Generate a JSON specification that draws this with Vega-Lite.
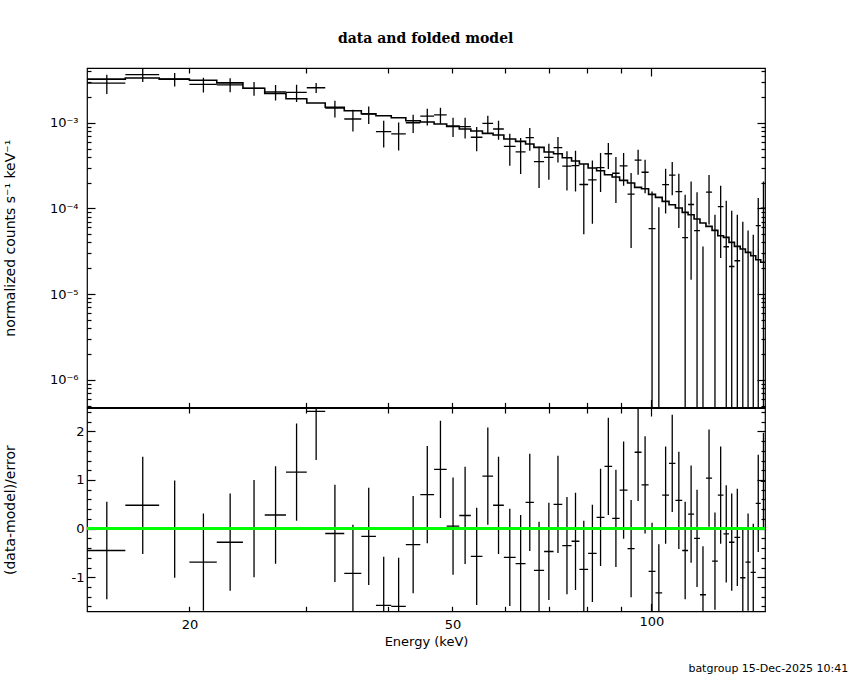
{
  "$schema": "https://vega.github.io/schema/vega-lite/v6.json",
  "background": "white",
  "padding": {"left": 2, "top": 31, "right": 2, "bottom": 2},
  "spacing": 0,
  "bounds": "flush",
  "title": {
    "text": "data and folded model",
    "font": "DejaVu Serif",
    "fontSize": 14,
    "fontWeight": "bold",
    "color": "black",
    "anchor": "middle",
    "baseline": "alphabetic",
    "offset": 8
  },
  "datasets": {
    "bins": [
      {"elo": 14, "ehi": 16, "e": 15, "f": 2.90e-3, "flo": 2.16e-3, "fhi": 3.63e-3, "r": -0.45, "rlo": -1.45, "rhi": 0.55},
      {"elo": 16, "ehi": 18, "e": 17, "f": 3.65e-3, "flo": 2.99e-3, "fhi": 4.31e-3, "r": 0.48, "rlo": -0.52, "rhi": 1.48},
      {"elo": 18, "ehi": 20, "e": 19, "f": 3.23e-3, "flo": 2.65e-3, "fhi": 3.80e-3, "r": -0.01, "rlo": -1.01, "rhi": 0.99},
      {"elo": 20, "ehi": 22, "e": 21, "f": 2.80e-3, "flo": 2.25e-3, "fhi": 3.35e-3, "r": -0.69, "rlo": -1.69, "rhi": 0.31},
      {"elo": 22, "ehi": 24.1, "e": 23.05, "f": 2.77e-3, "flo": 2.26e-3, "fhi": 3.30e-3, "r": -0.28, "rlo": -1.28, "rhi": 0.72},
      {"elo": 24.1, "ehi": 26, "e": 25.05, "f": 2.52e-3, "flo": 2.06e-3, "fhi": 2.98e-3, "r": 0.0, "rlo": -1.0, "rhi": 1.0},
      {"elo": 26, "ehi": 28, "e": 27, "f": 2.29e-3, "flo": 1.82e-3, "fhi": 2.75e-3, "r": 0.28, "rlo": -0.72, "rhi": 1.28},
      {"elo": 28, "ehi": 30.1, "e": 29.05, "f": 2.26e-3, "flo": 1.74e-3, "fhi": 2.78e-3, "r": 1.16, "rlo": 0.16, "rhi": 2.16},
      {"elo": 30.1, "ehi": 32.1, "e": 31.1, "f": 2.56e-3, "flo": 2.22e-3, "fhi": 2.90e-3, "r": 2.41, "rlo": 1.41, "rhi": 3.41},
      {"elo": 32.1, "ehi": 34.3, "e": 33.2, "f": 1.48e-3, "flo": 1.15e-3, "fhi": 1.81e-3, "r": -0.10, "rlo": -1.10, "rhi": 0.90},
      {"elo": 34.3, "ehi": 36.4, "e": 35.35, "f": 1.105e-3, "flo": 0.79e-3, "fhi": 1.42e-3, "r": -0.92, "rlo": -1.92, "rhi": 0.08},
      {"elo": 36.4, "ehi": 38.3, "e": 37.35, "f": 1.257e-3, "flo": 0.966e-3, "fhi": 1.549e-3, "r": -0.16, "rlo": -1.16, "rhi": 0.84},
      {"elo": 38.3, "ehi": 40.4, "e": 39.35, "f": 0.785e-3, "flo": 0.515e-3, "fhi": 1.055e-3, "r": -1.58, "rlo": -2.58, "rhi": -0.58},
      {"elo": 40.4, "ehi": 42.5, "e": 41.45, "f": 0.742e-3, "flo": 0.475e-3, "fhi": 1.008e-3, "r": -1.60, "rlo": -2.60, "rhi": -0.60},
      {"elo": 42.5, "ehi": 44.7, "e": 43.6, "f": 0.999e-3, "flo": 0.758e-3, "fhi": 1.240e-3, "r": -0.33, "rlo": -1.33, "rhi": 0.67},
      {"elo": 44.7, "ehi": 46.9, "e": 45.8, "f": 1.194e-3, "flo": 0.930e-3, "fhi": 1.457e-3, "r": 0.70, "rlo": -0.30, "rhi": 1.70},
      {"elo": 46.9, "ehi": 49.0, "e": 47.95, "f": 1.235e-3, "flo": 0.973e-3, "fhi": 1.496e-3, "r": 1.22, "rlo": 0.22, "rhi": 2.22},
      {"elo": 49.0, "ehi": 51.2, "e": 50.1, "f": 0.913e-3, "flo": 0.681e-3, "fhi": 1.144e-3, "r": 0.05, "rlo": -0.95, "rhi": 1.05},
      {"elo": 51.2, "ehi": 53.3, "e": 52.25, "f": 0.900e-3, "flo": 0.656e-3, "fhi": 1.144e-3, "r": 0.27, "rlo": -0.73, "rhi": 1.27},
      {"elo": 53.3, "ehi": 55.5, "e": 54.4, "f": 0.677e-3, "flo": 0.463e-3, "fhi": 0.891e-3, "r": -0.57, "rlo": -1.57, "rhi": 0.43},
      {"elo": 55.5, "ehi": 57.6, "e": 56.55, "f": 0.983e-3, "flo": 0.758e-3, "fhi": 1.207e-3, "r": 1.08, "rlo": 0.08, "rhi": 2.08},
      {"elo": 57.6, "ehi": 59.8, "e": 58.7, "f": 0.844e-3, "flo": 0.633e-3, "fhi": 1.055e-3, "r": 0.48, "rlo": -0.52, "rhi": 1.48},
      {"elo": 59.8, "ehi": 62.3, "e": 61.05, "f": 0.529e-3, "flo": 0.315e-3, "fhi": 0.744e-3, "r": -0.59, "rlo": -1.59, "rhi": 0.41},
      {"elo": 62.3, "ehi": 64.5, "e": 63.4, "f": 0.457e-3, "flo": 0.252e-3, "fhi": 0.663e-3, "r": -0.72, "rlo": -1.72, "rhi": 0.28},
      {"elo": 64.5, "ehi": 66.4, "e": 65.45, "f": 0.669e-3, "flo": 0.471e-3, "fhi": 0.867e-3, "r": 0.54, "rlo": -0.46, "rhi": 1.54},
      {"elo": 66.4, "ehi": 68.8, "e": 67.6, "f": 0.351e-3, "flo": 0.173e-3, "fhi": 0.529e-3, "r": -0.86, "rlo": -1.86, "rhi": 0.14},
      {"elo": 68.8, "ehi": 71.1, "e": 69.95, "f": 0.393e-3, "flo": 0.216e-3, "fhi": 0.569e-3, "r": -0.47, "rlo": -1.47, "rhi": 0.53},
      {"elo": 71.1, "ehi": 73.3, "e": 72.2, "f": 0.513e-3, "flo": 0.344e-3, "fhi": 0.681e-3, "r": 0.50, "rlo": -0.50, "rhi": 1.50},
      {"elo": 73.3, "ehi": 75.7, "e": 74.5, "f": 0.312e-3, "flo": 0.162e-3, "fhi": 0.463e-3, "r": -0.35, "rlo": -1.35, "rhi": 0.65},
      {"elo": 75.7, "ehi": 77.8, "e": 76.75, "f": 0.315e-3, "flo": 0.158e-3, "fhi": 0.471e-3, "r": -0.26, "rlo": -1.26, "rhi": 0.74},
      {"elo": 77.8, "ehi": 80.2, "e": 79.0, "f": 0.190e-3, "flo": 0.050e-3, "fhi": 0.330e-3, "r": -0.84, "rlo": -1.84, "rhi": 0.16},
      {"elo": 80.2, "ehi": 82.6, "e": 81.4, "f": 0.215e-3, "flo": 0.066e-3, "fhi": 0.363e-3, "r": -0.51, "rlo": -1.51, "rhi": 0.49},
      {"elo": 82.6, "ehi": 84.9, "e": 83.75, "f": 0.299e-3, "flo": 0.155e-3, "fhi": 0.443e-3, "r": 0.23, "rlo": -0.77, "rhi": 1.23},
      {"elo": 84.9, "ehi": 87.2, "e": 86.05, "f": 0.434e-3, "flo": 0.288e-3, "fhi": 0.580e-3, "r": 1.28, "rlo": 0.28, "rhi": 2.28},
      {"elo": 87.2, "ehi": 89.5, "e": 88.35, "f": 0.257e-3, "flo": 0.116e-3, "fhi": 0.398e-3, "r": 0.21, "rlo": -0.79, "rhi": 1.21},
      {"elo": 89.5, "ehi": 92.0, "e": 90.75, "f": 0.314e-3, "flo": 0.184e-3, "fhi": 0.443e-3, "r": 0.79, "rlo": -0.21, "rhi": 1.79},
      {"elo": 92.0, "ehi": 94.3, "e": 93.15, "f": 0.147e-3, "flo": 0.0345e-3, "fhi": 0.259e-3, "r": -0.41, "rlo": -1.41, "rhi": 0.59},
      {"elo": 94.3, "ehi": 96.6, "e": 95.45, "f": 0.366e-3, "flo": 0.247e-3, "fhi": 0.484e-3, "r": 1.57, "rlo": 0.57, "rhi": 2.57},
      {"elo": 96.6, "ehi": 99.0, "e": 97.8, "f": 0.264e-3, "flo": 0.150e-3, "fhi": 0.370e-3, "r": 0.90, "rlo": -0.10, "rhi": 1.90},
      {"elo": 99.0, "ehi": 101.4, "e": 100.2, "f": 0.058e-3, "flo": 1e-9, "fhi": 0.158e-3, "r": -0.88, "rlo": -1.88, "rhi": 0.12},
      {"elo": 101.4, "ehi": 103.8, "e": 102.6, "flo": 1e-9, "fhi": 0.103e-3, "r": -1.32, "rlo": -2.32, "rhi": -0.32},
      {"elo": 103.8, "ehi": 106.3, "e": 105.05, "f": 0.189e-3, "flo": 0.087e-3, "fhi": 0.291e-3, "r": 0.69, "rlo": -0.31, "rhi": 1.69},
      {"elo": 106.3, "ehi": 108.7, "e": 107.5, "f": 0.245e-3, "flo": 0.142e-3, "fhi": 0.348e-3, "r": 1.34, "rlo": 0.34, "rhi": 2.34},
      {"elo": 108.7, "ehi": 111.3, "e": 110.0, "f": 0.157e-3, "flo": 0.059e-3, "fhi": 0.254e-3, "r": 0.58, "rlo": -0.42, "rhi": 1.58},
      {"elo": 111.3, "ehi": 113.6, "e": 112.45, "f": 0.0455e-3, "flo": 1e-9, "fhi": 0.1445e-3, "r": -0.45, "rlo": -1.45, "rhi": 0.55},
      {"elo": 113.6, "ehi": 116.0, "e": 114.8, "f": 0.111e-3, "flo": 0.0147e-3, "fhi": 0.2065e-3, "r": 0.30, "rlo": -0.70, "rhi": 1.30},
      {"elo": 116.0, "ehi": 118.4, "e": 117.2, "f": 0.0549e-3, "flo": 1e-9, "fhi": 0.154e-3, "r": -0.20, "rlo": -1.20, "rhi": 0.80},
      {"elo": 118.4, "ehi": 120.9, "e": 119.65, "flo": 1e-9, "fhi": 0.036e-3, "r": -1.36, "rlo": -2.36, "rhi": -0.36},
      {"elo": 120.9, "ehi": 123.5, "e": 122.2, "f": 0.155e-3, "flo": 0.065e-3, "fhi": 0.245e-3, "r": 1.04, "rlo": 0.04, "rhi": 2.04},
      {"elo": 123.5, "ehi": 126.0, "e": 124.75, "flo": 1e-9, "fhi": 0.0844e-3, "r": -0.67, "rlo": -1.67, "rhi": 0.33},
      {"elo": 126.0, "ehi": 128.5, "e": 127.25, "f": 0.105e-3, "flo": 0.0264e-3, "fhi": 0.184e-3, "r": 0.69, "rlo": -0.31, "rhi": 1.69},
      {"elo": 128.5, "ehi": 131.0, "e": 129.75, "f": 0.0357e-3, "flo": 1e-9, "fhi": 0.123e-3, "r": -0.11, "rlo": -1.11, "rhi": 0.89},
      {"elo": 131.0, "ehi": 133.5, "e": 132.25, "f": 0.0210e-3, "flo": 1e-9, "fhi": 0.094e-3, "r": -0.28, "rlo": -1.28, "rhi": 0.72},
      {"elo": 133.5, "ehi": 136.2, "e": 134.85, "f": 0.0245e-3, "flo": 1e-9, "fhi": 0.0844e-3, "r": -0.18, "rlo": -1.18, "rhi": 0.82},
      {"elo": 136.2, "ehi": 138.7, "e": 137.45, "flo": 1e-9, "fhi": 0.070e-3, "r": -1.01, "rlo": -2.01, "rhi": -0.01},
      {"elo": 138.7, "ehi": 141.3, "e": 140.0, "flo": 1e-9, "fhi": 0.0554e-3, "r": -0.69, "rlo": -1.69, "rhi": 0.31},
      {"elo": 141.3, "ehi": 143.8, "e": 142.55, "flo": 1e-9, "fhi": 0.0493e-3, "r": -0.90, "rlo": -1.90, "rhi": 0.10},
      {"elo": 143.8, "ehi": 146.3, "e": 145.05, "f": 0.0628e-3, "flo": 1e-9, "fhi": 0.132e-3, "r": 0.52, "rlo": -0.48, "rhi": 1.52},
      {"elo": 146.3, "ehi": 149.1, "e": 147.7, "f": 0.101e-3, "flo": 1e-9, "fhi": 0.206e-3, "r": 0.97, "rlo": -0.03, "rhi": 1.97}
    ],
    "model": [
      {"e": 14, "m": 3.227e-3}, {"e": 16, "m": 3.323e-3}, {"e": 18, "m": 3.23e-3},
      {"e": 20, "m": 3.13e-3}, {"e": 22, "m": 2.92e-3}, {"e": 24.1, "m": 2.52e-3},
      {"e": 26, "m": 2.197e-3}, {"e": 28, "m": 1.905e-3}, {"e": 30.1, "m": 1.698e-3},
      {"e": 32.1, "m": 1.517e-3}, {"e": 34.3, "m": 1.38e-3}, {"e": 36.4, "m": 1.274e-3},
      {"e": 38.3, "m": 1.207e-3}, {"e": 40.4, "m": 1.144e-3}, {"e": 42.5, "m": 1.055e-3},
      {"e": 44.7, "m": 1.019e-3}, {"e": 46.9, "m": 0.9656e-3}, {"e": 49.0, "m": 0.9053e-3},
      {"e": 51.2, "m": 0.8442e-3}, {"e": 53.3, "m": 0.800e-3}, {"e": 55.5, "m": 0.7501e-3},
      {"e": 57.6, "m": 0.7186e-3}, {"e": 59.8, "m": 0.6453e-3}, {"e": 62.3, "m": 0.6048e-3},
      {"e": 64.5, "m": 0.5642e-3}, {"e": 66.4, "m": 0.515e-3}, {"e": 68.8, "m": 0.455e-3},
      {"e": 71.1, "m": 0.4347e-3}, {"e": 73.3, "m": 0.3904e-3}, {"e": 75.7, "m": 0.3573e-3},
      {"e": 77.8, "m": 0.3296e-3}, {"e": 80.2, "m": 0.296e-3}, {"e": 82.6, "m": 0.2754e-3},
      {"e": 84.9, "m": 0.2472e-3}, {"e": 87.2, "m": 0.2325e-3}, {"e": 89.5, "m": 0.2122e-3},
      {"e": 92.0, "m": 0.1978e-3}, {"e": 94.3, "m": 0.1758e-3}, {"e": 96.6, "m": 0.1698e-3},
      {"e": 99.0, "m": 0.1457e-3}, {"e": 101.4, "m": 0.1343e-3}, {"e": 103.8, "m": 0.1207e-3},
      {"e": 106.3, "m": 0.1104e-3}, {"e": 108.7, "m": 0.1011e-3}, {"e": 111.3, "m": 0.0898e-3},
      {"e": 113.6, "m": 0.0844e-3}, {"e": 116.0, "m": 0.0752e-3}, {"e": 118.4, "m": 0.0675e-3},
      {"e": 120.9, "m": 0.0617e-3}, {"e": 123.5, "m": 0.0554e-3}, {"e": 126.0, "m": 0.048e-3},
      {"e": 128.5, "m": 0.0459e-3}, {"e": 131.0, "m": 0.0401e-3}, {"e": 133.5, "m": 0.036e-3},
      {"e": 136.2, "m": 0.0336e-3}, {"e": 138.7, "m": 0.0307e-3}, {"e": 141.3, "m": 0.028e-3},
      {"e": 143.8, "m": 0.0252e-3}, {"e": 146.3, "m": 0.0235e-3}, {"e": 149.1, "m": 0.0235e-3}
    ]
  },
  "vconcat": [
    {
      "width": 678,
      "height": 339.4,
      "layer": [
        {
          "data": {"name": "model"},
          "mark": {"type": "line", "interpolate": "step-after", "color": "black", "strokeWidth": 1.6, "clip": true},
          "encoding": {
            "x": {
              "field": "e", "type": "quantitative",
              "scale": {"type": "log", "domain": [14, 148.5], "nice": false},
              "axis": {"orient": "bottom", "values": [20, 30, 40, 50, 60, 70, 80, 90, 100], "labels": false, "title": null,
                       "tickSize": {"condition": {"test": "datum.value == 100", "value": -8}, "value": -5}}
            },
            "y": {
              "field": "m", "type": "quantitative",
              "scale": {"type": "log", "domain": [4.76e-7, 4.35e-3], "nice": false},
              "axis": {
                "orient": "left",
                "values": [5e-7, 6e-7, 7e-7, 8e-7, 9e-7, 1e-6, 2e-6, 3e-6, 4e-6, 5e-6, 6e-6, 7e-6, 8e-6, 9e-6, 1e-5, 2e-5, 3e-5, 4e-5, 5e-5, 6e-5, 7e-5, 8e-5, 9e-5, 1e-4, 2e-4, 3e-4, 4e-4, 5e-4, 6e-4, 7e-4, 8e-4, 9e-4, 1e-3, 2e-3, 3e-3, 4e-3],
                "labelExpr": "abs(log(datum.value)/LN10 - round(log(datum.value)/LN10)) < 1e-6 ? '10' + ['⁰','⁻¹','⁻²','⁻³','⁻⁴','⁻⁵','⁻⁶','⁻⁷'][-round(log(datum.value)/LN10)] : ''",
                "tickSize": {"condition": {"test": "abs(log(datum.value)/LN10 - round(log(datum.value)/LN10)) < 1e-6", "value": -8}, "value": -4},
                "labelPadding": 17,
                "labelOverlap": false,
                "labelFlush": false,
                "labelBaseline": "middle",
                "title": "normalized counts s⁻¹ keV⁻¹",
                "titleFontSize": 14,
                "titleX": -70
              }
            }
          }
        },
        {
          "data": {"name": "bins"},
          "transform": [{"filter": "isValid(datum.f)"}],
          "mark": {"type": "rule", "color": "black", "strokeWidth": 1.3, "clip": true},
          "encoding": {
            "x": {
              "field": "elo", "type": "quantitative",
              "scale": {"type": "log", "domain": [14, 148.5], "nice": false},
              "axis": {"orient": "top", "values": [20, 30, 40, 50, 60, 70, 80, 90, 100], "labels": false, "title": null,
                       "tickSize": {"condition": {"test": "datum.value == 100", "value": -8}, "value": -5}}
            },
            "x2": {"field": "ehi"},
            "y": {
              "field": "f", "type": "quantitative",
              "scale": {"type": "log", "domain": [4.76e-7, 4.35e-3], "nice": false},
              "axis": {
                "orient": "right",
                "values": [5e-7, 6e-7, 7e-7, 8e-7, 9e-7, 1e-6, 2e-6, 3e-6, 4e-6, 5e-6, 6e-6, 7e-6, 8e-6, 9e-6, 1e-5, 2e-5, 3e-5, 4e-5, 5e-5, 6e-5, 7e-5, 8e-5, 9e-5, 1e-4, 2e-4, 3e-4, 4e-4, 5e-4, 6e-4, 7e-4, 8e-4, 9e-4, 1e-3, 2e-3, 3e-3, 4e-3],
                "labels": false,
                "title": null,
                "tickSize": {"condition": {"test": "abs(log(datum.value)/LN10 - round(log(datum.value)/LN10)) < 1e-6", "value": -8}, "value": -4}
              }
            }
          }
        },
        {
          "data": {"name": "bins"},
          "mark": {"type": "rule", "color": "black", "strokeWidth": 1.3, "clip": true},
          "encoding": {
            "x": {"field": "e", "type": "quantitative", "scale": {"type": "log", "domain": [14, 148.5], "nice": false}, "axis": null},
            "y": {"field": "flo", "type": "quantitative", "scale": {"type": "log", "domain": [4.76e-7, 4.35e-3], "nice": false}, "axis": null},
            "y2": {"field": "fhi"}
          }
        }
      ],
      "resolve": {"axis": {"x": "independent", "y": "independent"}}
    },
    {
      "width": 678,
      "height": 203.3,
      "title": {
        "text": "batgroup 15-Dec-2025 10:41",
        "orient": "bottom",
        "anchor": "end",
        "dx": 82,
        "offset": 15,
        "font": "DejaVu Sans",
        "fontSize": 11,
        "fontWeight": "normal",
        "color": "black"
      },
      "data": {"name": "bins"},
      "layer": [
        {
          "mark": {"type": "rule", "color": "black", "strokeWidth": 1.3, "clip": true},
          "encoding": {
            "x": {
              "field": "elo", "type": "quantitative",
              "scale": {"type": "log", "domain": [14, 148.5], "nice": false},
              "axis": {"orient": "bottom", "values": [20, 30, 40, 50, 60, 70, 80, 90, 100],
                       "labelExpr": "datum.value == 20 || datum.value == 50 || datum.value == 100 ? '' + datum.value : ''",
                       "labelPadding": 12, "labelOverlap": false, "labelFlush": false,
                       "tickSize": {"condition": {"test": "datum.value == 100", "value": -8}, "value": -5},
                       "title": "Energy (keV)", "titlePadding": 4}
            },
            "x2": {"field": "ehi"},
            "y": {
              "field": "r", "type": "quantitative",
              "scale": {"domain": [-1.70, 2.48], "nice": false, "zero": false},
              "axis": {
                "orient": "left",
                "values": [-1.6, -1.4, -1.2, -1, -0.8, -0.6, -0.4, -0.2, 0, 0.2, 0.4, 0.6, 0.8, 1, 1.2, 1.4, 1.6, 1.8, 2, 2.2, 2.4],
                "labelExpr": "abs(datum.value - round(datum.value)) < 0.01 ? '' + round(datum.value) : ''",
                "tickSize": {"condition": {"test": "abs(datum.value - round(datum.value)) < 0.01", "value": -8}, "value": -4},
                "labelPadding": 11,
                "labelOverlap": false,
                "labelFlush": false,
                "labelBaseline": "middle",
                "title": "(data-model)/error",
                "titleFontSize": 14,
                "titleX": -70
              }
            }
          }
        },
        {
          "mark": {"type": "rule", "color": "black", "strokeWidth": 1.3, "clip": true},
          "encoding": {
            "x": {
              "field": "e", "type": "quantitative",
              "scale": {"type": "log", "domain": [14, 148.5], "nice": false},
              "axis": {"orient": "top", "values": [20, 30, 40, 50, 60, 70, 80, 90, 100], "labels": false, "title": null,
                       "tickSize": {"condition": {"test": "datum.value == 100", "value": -8}, "value": -5}}
            },
            "y": {
              "field": "rlo", "type": "quantitative",
              "scale": {"domain": [-1.70, 2.48], "nice": false, "zero": false},
              "axis": {
                "orient": "right",
                "values": [-1.6, -1.4, -1.2, -1, -0.8, -0.6, -0.4, -0.2, 0, 0.2, 0.4, 0.6, 0.8, 1, 1.2, 1.4, 1.6, 1.8, 2, 2.2, 2.4],
                "labels": false,
                "title": null,
                "tickSize": {"condition": {"test": "abs(datum.value - round(datum.value)) < 0.01", "value": -8}, "value": -4}
              }
            },
            "y2": {"field": "rhi"}
          }
        },
        {
          "mark": {"type": "rule", "color": "#00ff00", "strokeWidth": 2.6},
          "encoding": {
            "y": {"datum": 0, "type": "quantitative", "scale": {"domain": [-1.70, 2.48], "nice": false, "zero": false}, "axis": null}
          }
        }
      ],
      "resolve": {"axis": {"x": "independent", "y": "independent"}}
    }
  ],
  "config": {
    "view": {"stroke": "black", "strokeWidth": 1.2},
    "axis": {
      "domain": false,
      "grid": false,
      "tickColor": "black",
      "tickWidth": 1.2,
      "labelColor": "black",
      "labelFont": "DejaVu Sans",
      "labelFontSize": 13,
      "titleColor": "black",
      "titleFont": "DejaVu Sans",
      "titleFontSize": 13,
      "titleFontWeight": "normal"
    }
  }
}
